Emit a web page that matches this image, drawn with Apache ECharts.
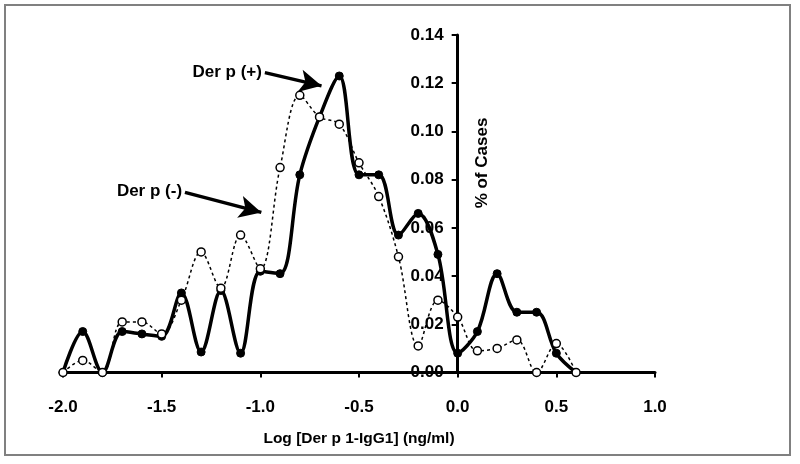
<!DOCTYPE html>
<html>
<head>
<meta charset="utf-8">
<script src="https://cdn.jsdelivr.net/npm/echarts@6/dist/echarts.min.js"></script>
<style>
  html, body { margin: 0; padding: 0; background: #fff; }
  #chart { width: 800px; height: 464px; }
</style>
</head>
<body>
<div id="chart"></div>
<script>
// log concentration bins
const logConc = [-2.0, -1.9, -1.8, -1.7, -1.6, -1.5, -1.4, -1.3, -1.2, -1.1, -1.0, -0.9, -0.8,
  -0.7, -0.6, -0.5, -0.4, -0.3, -0.2, -0.1, 0.0, 0.1, 0.2, 0.3, 0.4, 0.5, 0.6];
// Der p (+) — solid line, filled dots
const derPos = [0, 0.017, 0, 0.017, 0.016, 0.015, 0.033, 0.0085, 0.034, 0.008, 0.042, 0.041, 0.082,
  0.106, 0.123, 0.082, 0.082, 0.057, 0.066, 0.049, 0.008, 0.017, 0.041, 0.025, 0.025, 0.008, 0];
// Der p (-) — dotted line, open circles
const derNeg = [0, 0.005, 0, 0.021, 0.021, 0.016, 0.030, 0.050, 0.035, 0.057, 0.043, 0.085, 0.115,
  0.106, 0.103, 0.087, 0.073, 0.048, 0.011, 0.030, 0.023, 0.009, 0.010, 0.0135, 0, 0.012, 0];

const font = '"Liberation Sans", Arial, sans-serif';

// plot box in pixels; the y axis sits on x = 0
const gridLeft = 63, gridRight = 145;
const plotWidth = 800 - gridLeft - gridRight;
const xMin = -2, xMax = 1;
const yAxisShift = -plotWidth * (0 - xMin) / (xMax - xMin);

let chart = echarts.init(document.getElementById('chart'));

function pairs(ys) {
  return logConc.map(function (x, i) { return [x, ys[i]]; });
}

const arrowLabel = function (text) {
  return {
    show: true,
    position: 'start',
    formatter: text,
    color: '#000',
    fontFamily: font,
    fontWeight: 'bold',
    fontSize: 17,
    distance: 3
  };
};

let option = {
  animation: false,
  backgroundColor: '#fff',
  grid: { left: gridLeft, right: gridRight, top: 35, bottom: 91.5 },
  xAxis: {
    type: 'value',
    min: xMin,
    max: xMax,
    interval: 0.5,
    name: 'Log [Der p 1-IgG1] (ng/ml)',
    nameLocation: 'middle',
    nameGap: 58,
    nameTextStyle: { color: '#000', fontFamily: font, fontWeight: 'bold', fontSize: 15.5 },
    splitLine: { show: false },
    axisLine: { onZero: false, lineStyle: { color: '#000', width: 3 } },
    axisTick: { length: 5, lineStyle: { color: '#000', width: 2 } },
    axisLabel: {
      margin: 26, color: '#000', fontFamily: font, fontWeight: 'bold', fontSize: 17,
      formatter: function (v) { return v.toFixed(1); }
    }
  },
  yAxis: {
    type: 'value',
    min: 0,
    max: 0.14,
    interval: 0.02,
    offset: yAxisShift,
    splitLine: { show: false },
    axisLine: { onZero: false, lineStyle: { color: '#000', width: 3 } },
    axisTick: { length: 6, lineStyle: { color: '#000', width: 2 } },
    axisLabel: {
      margin: 14, color: '#000', fontFamily: font, fontWeight: 'bold', fontSize: 17,
      formatter: function (v) { return v.toFixed(2); }
    }
  },
  graphic: [
    {
      type: 'rect',
      shape: { x: 5, y: 5, width: 785, height: 450 },
      style: { fill: 'none', stroke: '#808080', lineWidth: 2 },
      silent: true
    },
    {
      type: 'text',
      x: 482, y: 163,
      rotation: Math.PI / 2,
      style: {
        text: '% of Cases', fill: '#000', font: 'bold 17px ' + font,
        textAlign: 'center', textVerticalAlign: 'middle'
      }
    }
  ],
  series: [
    {
      name: 'Der p (-)',
      type: 'line',
      data: pairs(derNeg),
      smooth: 0.35,
      symbol: 'circle',
      symbolSize: 8,
      z: 3,
      lineStyle: { color: '#000', width: 1.5, type: [3, 3] },
      itemStyle: { color: '#fff', borderColor: '#000', borderWidth: 1.5 }
    },
    {
      name: 'Der p (+)',
      type: 'line',
      data: pairs(derPos),
      smooth: 0.35,
      symbol: 'circle',
      symbolSize: 8,
      z: 2,
      lineStyle: { color: '#000', width: 3.5 },
      itemStyle: { color: '#000', borderColor: '#000' },
      markLine: {
        silent: true,
        symbolSize: [17, 22],
        lineStyle: { color: '#000', width: 3.5, type: 'solid' },
        data: [
          [
            { coord: [-0.977, 0.1244], symbol: 'none', label: arrowLabel('Der p (+)') },
            { coord: [-0.69, 0.1189], symbol: 'arrow' }
          ],
          [
            { coord: [-1.382, 0.0747], symbol: 'none', label: arrowLabel('Der p (-)') },
            { coord: [-0.995, 0.0664], symbol: 'arrow' }
          ]
        ]
      }
    }
  ]
};

chart.setOption(option);
</script>
</body>
</html>
